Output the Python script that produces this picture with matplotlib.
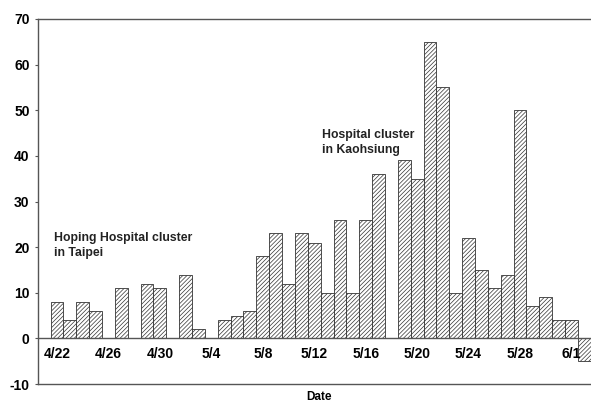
import matplotlib.pyplot as plt
import numpy as np
import pandas as pd

plt.rcParams['font.family'] = ['Liberation Sans', 'DejaVu Sans']
plt.rcParams['hatch.linewidth'] = 0.5
plt.rcParams['axes.unicode_minus'] = False

# daily cases, 4/22 .. 6/2
dates = pd.date_range('2003-04-22', '2003-06-02')
cases = [8, 4, 8, 6, 0, 11, 0, 12, 11, 0, 14, 2, 0, 4, 5, 6, 18, 23, 12, 23,
         21, 10, 26, 10, 26, 36, 0, 39, 35, 65, 55, 10, 22, 15, 11, 14, 50, 7,
         9, 4, 4, -5]
tick_labels = ['4/22', '4/26', '4/30', '5/4', '5/8', '5/12', '5/16', '5/20',
               '5/24', '5/28', '6/1']

x = np.arange(len(dates))

fig = plt.figure(figsize=(5.91, 4.04), dpi=100)
ax = fig.add_axes([38/591, 20/404, 562/591, 365/404])

ax.bar(x, cases, width=1.0, color='white', edgecolor='#333333', linewidth=0.6,
       hatch='////////')
ax.axhline(0, color='#555555', lw=1)

ax.set_xlim(-1.48, (600-57)/12.86)
ax.set_ylim(-10, 70)
ax.set_yticks(range(-10, 71, 10))
ax.tick_params(axis='y', length=2, width=0.8, color='#555555', pad=4)
for t in ax.get_yticklabels():
    t.set_fontweight('bold')
    t.set_fontsize(10)

ax.set_xticks(x[::4])
ax.set_xticklabels(tick_labels, fontweight='bold', fontsize=10)
ax.tick_params(axis='x', length=0, pad=-27)
ax.set_xlabel('Date', fontweight='bold', fontsize=8.5, labelpad=5)

for s in ax.spines.values():
    s.set_color('#555555')
    s.set_linewidth(1)

ax.text(-0.2, 20.4, 'Hoping Hospital cluster\nin Taipei', fontsize=8.8,
        fontweight='bold', color='#222222', va='center', linespacing=1.3)
ax.text(20.6, 42.9, 'Hospital cluster\nin Kaohsiung', fontsize=8.8,
        fontweight='bold', color='#222222', va='center', linespacing=1.3)

fig.savefig('out.png', dpi=100)
